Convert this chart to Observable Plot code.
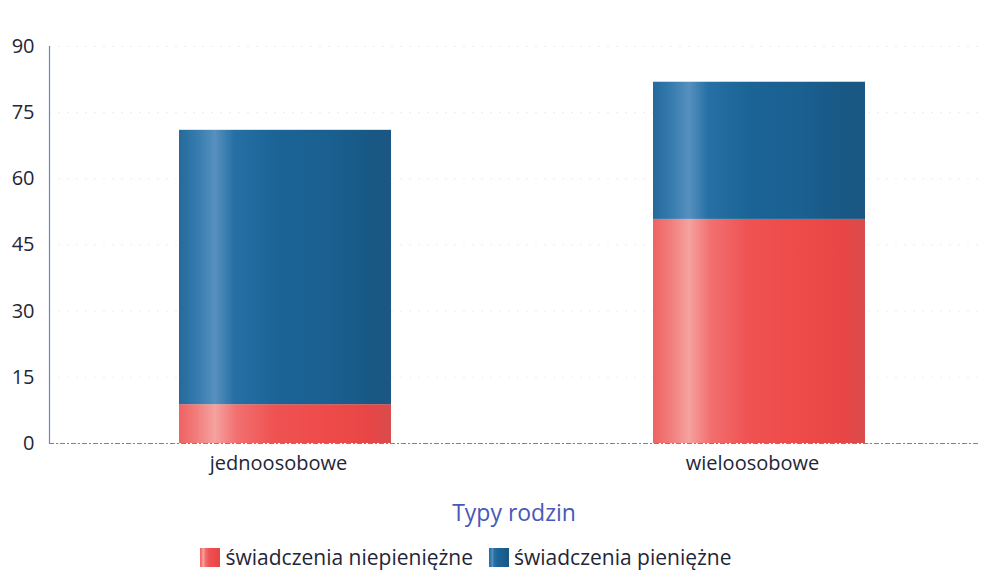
<!DOCTYPE html>
<html>
<head>
<meta charset="utf-8">
<script src="https://cdn.jsdelivr.net/npm/d3@7"></script>
<script src="https://cdn.jsdelivr.net/npm/@observablehq/plot@0.6"></script>
<style>
  body { margin: 0; background: #fff; font-family: "Open Sans", sans-serif; }
  #wrap { width: 982px; }
  #legend { display: flex; justify-content: center; align-items: center; gap: 16px; height: 54px; font-size: 21px; color: #1f2637; padding-right: 50px; }
  .item { display: flex; align-items: center; gap: 5px; }
  .sw { width: 20px; height: 19px; display: inline-block; }
</style>
</head>
<body>
<div id="wrap"></div>
<script>
const categories = ["jednoosobowe", "wieloosobowe"];
const seriesNames = ["świadczenia niepieniężne", "świadczenia pieniężne"];
const niepieniezne = [8.8, 50.8];
const pieniezne = [62.2, 31.1];
const yTicks = [0, 15, 30, 45, 60, 75, 90];
const xTitle = "Typy rodzin";

const data = [];
categories.forEach((c, i) => {
  data.push({cat: c, series: seriesNames[0], value: niepieniezne[i]});
  data.push({cat: c, series: seriesNames[1], value: pieniezne[i]});
});

const font = "Open Sans, sans-serif";
const chart = Plot.plot({
  width: 982,
  height: 530,
  marginLeft: 49,
  marginRight: 4,
  marginTop: 46,
  marginBottom: 87,
  style: {fontFamily: font, fontSize: "19px", color: "#1f2637", background: "transparent"},
  x: {domain: categories, range: [49, 995], paddingInner: 0.552, paddingOuter: 0.272, label: null},
  y: {domain: [0, 90], ticks: yTicks, label: null},
  color: {domain: seriesNames, range: ["url(#gradRed)", "url(#gradBlue)"]},
  marks: [
    Plot.gridY(yTicks, {stroke: "#bbb", strokeOpacity: 0.25, strokeDasharray: "2,7"}),
    Plot.barY(data, {x: "cat", y: "value", fill: "series", order: seriesNames}),
    Plot.ruleY([0], {stroke: "#6f7dd0", strokeWidth: 1, strokeDasharray: "5,2,2,2"}),
    Plot.frame({anchor: "left", stroke: "#6f80d8", strokeWidth: 1.2, strokeDasharray: "4,1"}),
    Plot.axisY(yTicks, {tickSize: 0, tickPadding: 15, fontSize: 20, fill: "#1f2637"}),
    Plot.axisX({tickSize: 0, tickPadding: 12, dx: -7, fontSize: 20, fill: "#1f2637", label: null}),
    Plot.text([xTitle], {frameAnchor: "bottom", dy: 70, fontSize: 23, fill: "#4858b8", lineAnchor: "middle"})
  ]
});

// gradient definitions for the cylinder-like bar shading
const ns = "http://www.w3.org/2000/svg";
const defs = document.createElementNS(ns, "defs");
const redStops = [[0, "#ef6262"], [0.08, "#f17c7a"], [0.17, "#f5a2a0"], [0.27, "#f27070"], [0.45, "#ef5252"], [0.7, "#ee4a4a"], [0.9, "#e84646"], [1, "#d94c4c"]];
const blueStops = [[0, "#266a9b"], [0.08, "#347aad"], [0.17, "#5690bf"], [0.26, "#2670a5"], [0.45, "#1b6496"], [0.7, "#1a6090"], [0.9, "#185885"], [1, "#1b5782"]];
function grad(id, stops) {
  const g = document.createElementNS(ns, "linearGradient");
  g.setAttribute("id", id);
  g.setAttribute("x1", "0"); g.setAttribute("x2", "1"); g.setAttribute("y1", "0"); g.setAttribute("y2", "0");
  stops.forEach(([o, c]) => {
    const s = document.createElementNS(ns, "stop");
    s.setAttribute("offset", o); s.setAttribute("stop-color", c);
    g.appendChild(s);
  });
  defs.appendChild(g);
}
grad("gradRed", redStops);
grad("gradBlue", blueStops);
chart.insertBefore(defs, chart.firstChild);

const wrap = document.getElementById("wrap");
wrap.appendChild(chart);

const css = stops => "linear-gradient(to right, " + stops.map(([o, c]) => c + " " + (o * 100) + "%").join(", ") + ")";
const legend = document.createElement("div");
legend.id = "legend";
[redStops, blueStops].forEach((stops, i) => {
  const item = document.createElement("span");
  item.className = "item";
  const sw = document.createElement("span");
  sw.className = "sw";
  sw.style.background = css(stops);
  const t = document.createElement("span");
  t.textContent = seriesNames[i];
  item.appendChild(sw); item.appendChild(t);
  legend.appendChild(item);
});
wrap.appendChild(legend);
</script>
</body>
</html>
